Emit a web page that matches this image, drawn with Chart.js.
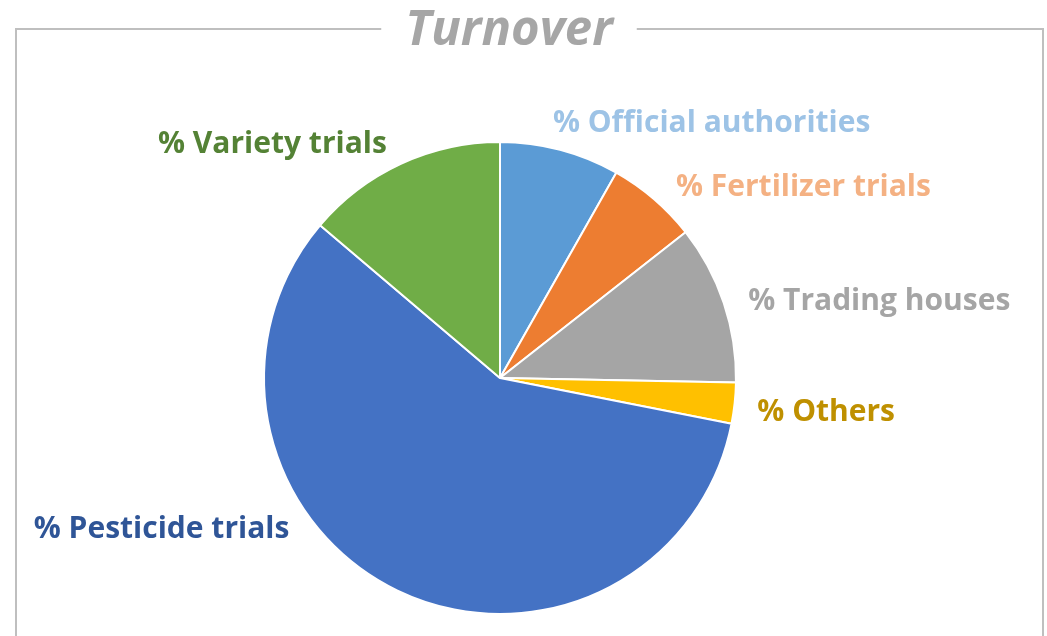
<!DOCTYPE html>
<html>
<head>
<meta charset="utf-8">
<script src="https://cdn.jsdelivr.net/npm/chart.js@4"></script>
<style>
  html, body { margin: 0; padding: 0; background: #fff; }
  #wrap { width: 1047px; height: 636px; position: relative; }
</style>
</head>
<body>
<div id="wrap"><canvas id="PieChart"></canvas></div>
<script>
const chartTitle = 'Turnover';
const categories = ['% Official authorities', '% Fertilizer trials', '% Trading houses', '% Others', '% Pesticide trials', '% Variety trials'];
const shares = [8.2, 6.2, 10.9, 2.8, 58.1, 13.8];
const sliceColors = ['#5B9BD5', '#ED7D31', '#A5A5A5', '#FFC000', '#4472C4', '#70AD47'];
const labelColors = ['#9DC3E6', '#F4B183', '#A5A5A5', '#BF9000', '#2F5597', '#548235'];
// extra rotation (deg) for labels Excel nudged away from the slice middle
const labelTurn = [-3, 2, 1.5, 1.5, 28.5, -1];

const frameAndLabels = {
  id: 'frameAndLabels',
  beforeDraw(chart) {
    const c = chart.ctx;
    c.save();
    c.font = 'italic bold 49px "Open Sans"';
    const tw = c.measureText(chartTitle).width;
    const cx = 509, top = 29;
    c.strokeStyle = '#BFBFBF';
    c.lineWidth = 2;
    c.beginPath();
    c.moveTo(cx - tw / 2 - 24, top);
    c.lineTo(16, top);
    c.lineTo(16, 640);
    c.moveTo(cx + tw / 2 + 24, top);
    c.lineTo(1043, top);
    c.lineTo(1043, 640);
    c.stroke();
    c.fillStyle = '#A6A6A6';
    c.textAlign = 'center';
    c.textBaseline = 'middle';
    c.fillText(chartTitle, cx, top + 2);
    c.restore();
  },
  afterDraw(chart) {
    const c = chart.ctx;
    const meta = chart.getDatasetMeta(0);
    c.save();
    c.font = 'bold 30px "Open Sans"';
    c.textBaseline = 'middle';
    meta.data.forEach((arc, i) => {
      const p = arc.getProps(['x', 'y', 'startAngle', 'endAngle', 'outerRadius'], true);
      const mid = (p.startAngle + p.endAngle) / 2 + labelTurn[i] * Math.PI / 180;
      const r = p.outerRadius * 1.1;
      const lx = p.x + Math.cos(mid) * r;
      const ly = p.y + Math.sin(mid) * r;
      c.textAlign = lx >= p.x ? 'left' : 'right';
      c.fillStyle = labelColors[i];
      c.fillText(categories[i], lx, ly);
    });
    c.restore();
  }
};

const ctx = document.getElementById('PieChart');
const myChart = new Chart(ctx, {
  type: 'pie',
  data: {
    labels: categories,
    datasets: [{
      data: shares,
      backgroundColor: sliceColors,
      borderColor: '#ffffff',
      borderWidth: 2
    }]
  },
  options: {
    responsive: true,
    maintainAspectRatio: false,
    animation: false,
    layout: { padding: { left: 263, right: 310, top: 141, bottom: 21 } },
    plugins: {
      legend: { display: false },
      tooltip: { enabled: false }
    }
  },
  plugins: [frameAndLabels]
});
</script>
</body>
</html>
